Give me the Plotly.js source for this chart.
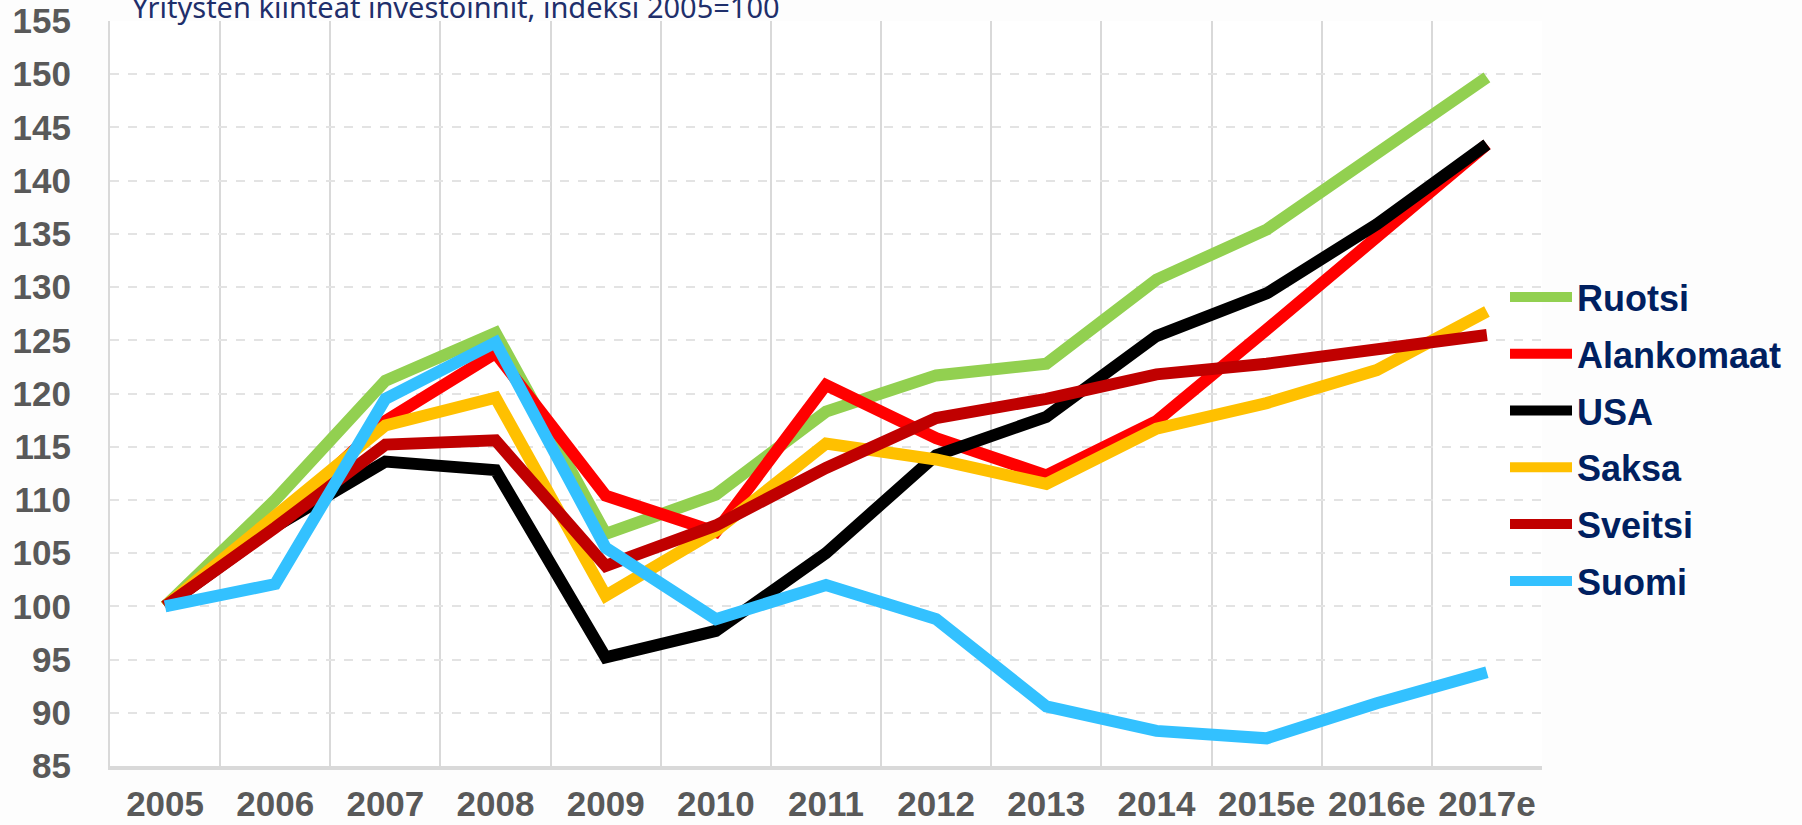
<!DOCTYPE html>
<html>
<head>
<meta charset="utf-8">
<script src="https://cdn.plot.ly/plotly-3.0.1.min.js"></script>
<style>html,body{margin:0;padding:0;background:#fdfdfd;}#chart{width:1802px;height:825px;}</style>
</head>
<body>
<div id="chart"></div>
<script>
const years = ["2005","2006","2007","2008","2009","2010","2011","2012","2013","2014","2015e","2016e","2017e"];
const ruotsi     = [100, 110.0, 121.2, 125.7, 106.8, 110.5, 118.3, 121.7, 122.8, 130.7, 135.4, 142.5, 149.7];
const alankomaat = [100, 107.8, 117.4, 123.8, 110.4, 107.0, 120.8, 115.8, 112.3, 117.4, 126.0, 134.8, 143.4];
const usa        = [100, 107.5, 113.6, 112.8, 95.2, 97.7, 105.0, 114.2, 117.8, 125.4, 129.4, 135.9, 143.4];
const saksa      = [100, 108.5, 117.0, 119.6, 101.0, 107.1, 115.3, 113.8, 111.5, 116.7, 119.1, 122.2, 127.7];
const sveitsi    = [100, 107.4, 115.2, 115.6, 103.8, 107.6, 113.0, 117.7, 119.5, 121.8, 122.8, 124.2, 125.5];
const suomi      = [100, 102.1, 119.5, 124.8, 105.5, 98.8, 102.0, 98.8, 90.6, 88.3, 87.6, 90.9, 93.8];
const yTicks = [85,90,95,100,105,110,115,120,125,130,135,140,145,150,155];

const seriesNames = ["Ruotsi","Alankomaat","USA","Saksa","Sveitsi","Suomi"];
const seriesData = [ruotsi, alankomaat, usa, saksa, sveitsi, suomi];
const seriesColors = ["#92D050","#FF0000","#000000","#FFC000","#C00000","#33C1FF"];

const traces = seriesNames.map((n, i) => ({
  type: "scatter", mode: "lines", name: n, x: years, y: seriesData[i],
  legendgroup: n,
  line: {color: seriesColors[i], width: 12, shape: "linear"}
}));

const layout = {
  width: 1802, height: 825,
  paper_bgcolor: "#fdfdfd", plot_bgcolor: "#ffffff",
  margin: {l: 110, r: 260, t: 21, b: 59},
  title: {
    text: "Yritysten kiinteät investoinnit, indeksi 2005=100",
    x: 132/1802, xanchor: "left", xref: "container",
    y: 1 - 8/825, yanchor: "middle", yref: "container",
    font: {family: "Noto Sans, Open Sans, sans-serif", size: 29, color: "#1F2F6B"}
  },
  xaxis: {
    type: "category", range: [-0.5, 12.5], tickson: "boundaries",
    showgrid: true, gridcolor: "#D9D9D9", gridwidth: 2,
    showline: true, linecolor: "#D9D9D9", linewidth: 4,
    ticks: "", ticklabelstandoff: 4, zeroline: false,
    tickfont: {family: "Liberation Sans, Arial, sans-serif", size: 35, color: "#595959", weight: "bold"},
    fixedrange: true
  },
  yaxis: {
    range: [85, 155], tickmode: "array", tickvals: yTicks, ticktext: yTicks.map(String),
    showgrid: true, gridcolor: "#E3E3E3", gridwidth: 2, griddash: "dash",
    showline: true, linecolor: "#D9D9D9", linewidth: 2, zeroline: false,
    ticks: "", ticklabelstandoff: 30,
    tickfont: {family: "Liberation Sans, Arial, sans-serif", size: 35, color: "#595959", weight: "bold"},
    fixedrange: true
  },
  showlegend: true,
  legend: {
    xref: "paper", xanchor: "left", yanchor: "top",
    traceorder: "grouped", tracegroupgap: 7, itemwidth: 62,
    bgcolor: "rgba(0,0,0,0)", borderwidth: 0,
    font: {family: "Liberation Sans, Arial, sans-serif", size: 36, color: "#002060", weight: "bold"}
  }
};
layout.legend.x = (1505 - 110) / (1542 - 110);
layout.legend.y = 1 - (267 - 21) / (766 - 21);

Plotly.newPlot("chart", traces, layout, {displayModeBar: false, staticPlot: true});
</script>
</body>
</html>
